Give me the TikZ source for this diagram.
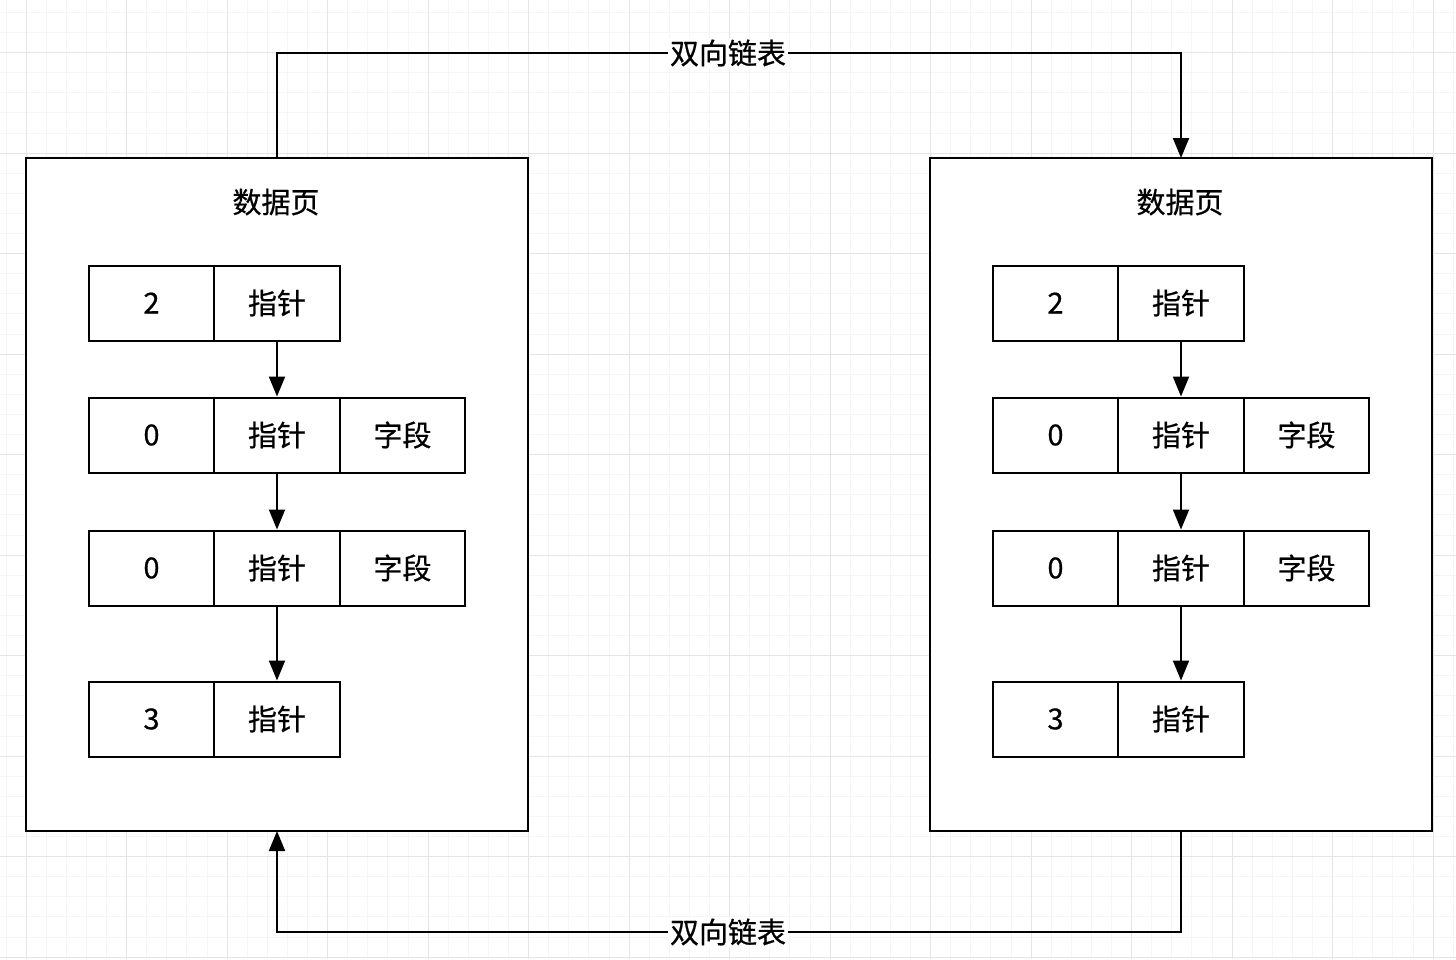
\documentclass[tikz,border=0pt]{standalone}
\usepackage{fontspec}
\setmainfont{Noto Sans CJK SC}[FakeBold=0.6]
\usetikzlibrary{arrows.meta,positioning}

\tikzset{
  cell/.style={draw, line width=2pt, minimum width=125.5pt, minimum height=75pt, font=\fontsize{29}{29}\selectfont, inner sep=0pt},
  page/.style={draw, line width=2pt},
  link/.style={line width=2pt, -{Triangle[length=20pt, width=16pt]}},
  lbl/.style={fill=white, inner sep=2pt, font=\fontsize{29}{29}\selectfont}
}

\begin{document}
\begin{tikzpicture}[x=1pt, y=-1pt]
\useasboundingbox (0,0) rectangle (1456,959);
\fill[white] (0,0) rectangle (1456,959);

% grid
\foreach \i in {-1,...,72}
  \draw[black!4, line width=0.8pt] (26+20.1*\i,0) -- (26+20.1*\i,959);
\foreach \j in {-8,...,40}
  \draw[black!4, line width=0.8pt] (0,153+20.1*\j) -- (1456,153+20.1*\j);
\foreach \i in {0,...,14}
  \draw[black!10, line width=1pt] (26+100.5*\i,0) -- (26+100.5*\i,959);
\foreach \j in {-1,...,8}
  \draw[black!10, line width=1pt] (0,153+100.5*\j) -- (1456,153+100.5*\j);

% pages
\foreach \p/\dx in {L/0, R/904} {
  \draw[page, fill=white] (26+\dx,158) rectangle (528+\dx,831);
  \coordinate (\p top) at (277+\dx,158);
  \coordinate (\p bot) at (277+\dx,831);
  \node[font=\fontsize{29}{29}\selectfont] at (276+\dx,202) {数据页};
  % rows
  \node[cell] (\p a1) at (151.5+\dx,303) {2};
  \node[cell] (\p a2) at (277+\dx,303) {指针};
  \node[cell] (\p b1) at (151.5+\dx,435) {0};
  \node[cell] (\p b2) at (277+\dx,435) {指针};
  \node[cell] (\p b3) at (402.5+\dx,435) {字段};
  \node[cell] (\p c1) at (151.5+\dx,568) {0};
  \node[cell] (\p c2) at (277+\dx,568) {指针};
  \node[cell] (\p c3) at (402.5+\dx,568) {字段};
  \node[cell] (\p d1) at (151.5+\dx,719) {3};
  \node[cell] (\p d2) at (277+\dx,719) {指针};
  \draw[link] (\p a2) -- (\p b2);
  \draw[link] (\p b2) -- (\p c2);
  \draw[link] (\p c2) -- (\p d2);
}

% links between pages
\draw[link] (Ltop) |- (728,53) node[lbl] {双向链表} -| (Rtop);
\draw[link] (Rbot) |- (728,932) node[lbl] {双向链表} -| (Lbot);
\end{tikzpicture}
\end{document}
